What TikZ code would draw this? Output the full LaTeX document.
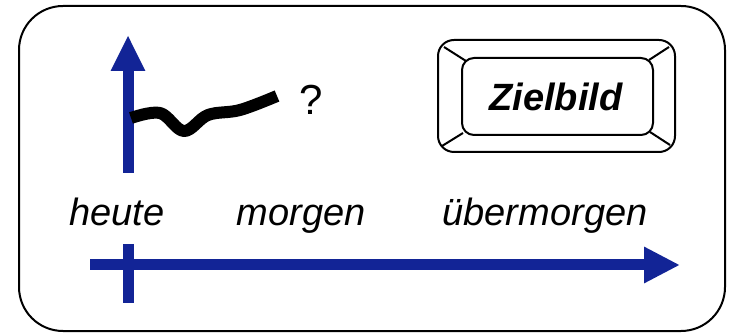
\documentclass[tikz,border=0pt]{standalone}
\usepackage{fontspec}
\setmainfont{Liberation Sans}
\usepackage{tikz}
\usetikzlibrary{arrows.meta}
\definecolor{zeitblau}{RGB}{18,36,150}

\begin{document}
\begin{tikzpicture}[x=0.5pt, y=-0.5pt, line join=round,
    label/.style = {font=\fontsize{19}{22}\selectfont\itshape, inner sep=0pt, anchor=base},
    axis/.style = {draw=zeitblau, line width=5.5pt},
    wave/.style = {draw=black, line width=6pt},
    key/.style = {draw=black, line width=1pt}]
            \useasboundingbox (0,0) rectangle (731,335);
            % Frame
            \draw[line width=1pt, rounded corners=22pt] (19,6) rectangle (725,331);
            % Nodes
            \node[label] (heute) at (117,226) {heute};
            \node[label] (morgen) at (301,226) {morgen};
            \node[label] (uebermorgen) at (545,226) {übermorgen};
            \node[inner sep=0pt, font=\fontsize{21}{24}\selectfont] (frage) at (311,100) {?};
            \node[inner sep=0pt, font=\fontsize{19}{22}\selectfont\bfseries\itshape] (ziel) at (556,97) {Zielbild};
            \coordinate (tbot) at (128,173);
            \coordinate (ttop) at (128,35);
            \coordinate (xstart) at (90,265);
            \coordinate (xend) at (680,265);
            \coordinate (tickup) at (128,244);
            \coordinate (tickdown) at (128,303);
            % Key
            \draw[key, rounded corners=8pt] (438,40) rectangle (675,152);
            \draw[key, rounded corners=6pt] (462,58) rectangle (653,135);
            \draw[key] (444,47) -- (466,61);
            \draw[key] (669,47) -- (649,60);
            \draw[key] (442,146) -- (463,133);
            \draw[key] (670,145) -- (650,132);
            % Edges
            \draw[axis, -{Triangle[length=18pt, width=16pt]}] (tbot) -- (ttop);
            \draw[axis, -{Triangle[length=18pt, width=17pt]}] (xstart) -- (xend);
            \draw[axis] (tickup) -- (tickdown);
            \draw[wave] plot[smooth, tension=0.6] coordinates {(131,118) (160,113) (184,131) (208,115) (240,110) (277,96)};
            \end{tikzpicture}
\end{document}
